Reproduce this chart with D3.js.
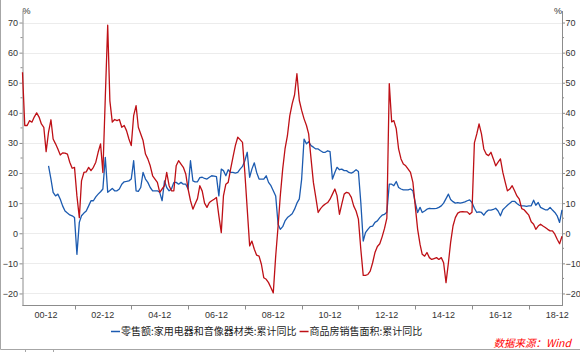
<!DOCTYPE html>
<html>
<head>
<meta charset="utf-8">
<script src="https://cdn.jsdelivr.net/npm/d3@7"></script>
<style>
  html, body { margin: 0; padding: 0; background: #fff; }
  svg { display: block; }
  .num { font-family: "Liberation Sans", Arial, sans-serif; font-size: 9px; fill: #333; }
  .cjk { font-family: "Noto Sans CJK SC", sans-serif; }
</style>
</head>
<body>
<div id="container"></div>
<script>
// monthly, 2000-02 .. 2019-02 (cumulative YoY, %)
const firstMonth = new Date(2000, 1, 1);
const lastMonth = new Date(2019, 1, 1);

// 商品房销售面积:累计同比 (red)
const housingYoY = [
  53.5, 35.8, 35.8, 37.4, 36.9, 38.6, 40.0, 38.6, 36.3, 35.2, 27.1, 33.6,
  37.7, 31.3, 29.7, 28.0, 26.0, 26.7, 26.6, 26.3, 23.6, 21.6, 21.9, 12.4,
  5.2, 17.4, 20.2, 20.4, 21.9, 20.8, 21.9, 23.6, 26.9, 29.7, 20.2, 45.0,
  69.1, 44.0, 36.9, 37.8, 37.4, 37.8, 35.2, 35.8, 34.1, 31.3, 29.1, 39.1,
  42.4, 35.2, 33.0, 30.8, 26.3, 24.7, 22.4, 19.1, 18.0, 16.9, 13.6, 14.7,
  15.8, 20.2, 15.8, 14.1, 14.1, 22.4, 24.1, 23.0, 21.9, 19.7, 14.7, 10.8,
  8.0, 9.7, 11.5, 15.8, 14.0, 10.0, 8.6, 10.2, 10.8, 11.3, 11.9, 5.8,
  0.2, 12.4, 16.3, 16.9, 21.3, 25.2, 29.1, 31.9, 31.1, 30.2, 20.2, 8.0,
  -4.2, -2.6, -5.3, -7.3, -7.6, -10.3, -14.8, -15.3, -16.4, -18.1, -19.8, -7.6,
  2.4, 12.4, 21.3, 28.0, 32.4, 39.0, 43.0, 46.0, 53.0, 44.1, 40.8, 38.0,
  35.8, 33.0, 24.7, 16.9, 11.9, 6.9, 8.2, 9.1, 9.7, 10.2, 11.3, 13.0,
  14.7, 12.5, 6.3, 9.7, 13.0, 13.6, 13.3, 11.9, 9.1, 7.4, 4.7, -5.3,
  -14.0, -14.0, -13.7, -12.6, -9.8, -6.4, -4.4, -3.5, -1.2, 1.6, 5.0, 49.7,
  37.0, 37.4, 34.7, 28.0, 24.7, 23.0, 22.4, 21.3, 20.2, 16.9, 9.1, 1.3,
  -3.7, -7.0, -7.6, -6.4, -8.1, -8.7, -8.4, -8.1, -8.7, -8.1, -9.8, -16.4,
  -9.8, -3.1, 2.4, 5.2, 6.7, 7.1, 7.2, 7.1, 7.1, 6.3, 7.0, 30.0,
  33.0, 36.3, 33.0, 28.0, 26.3, 25.8, 26.9, 24.7, 22.4, 23.6, 24.7, 20.2,
  16.9, 14.1, 14.7, 15.8, 14.1, 12.4, 11.3, 8.2, 7.8, 6.9, 6.0, 3.8,
  3.0, 1.3, 2.4, 3.0, 2.4, 1.9, 1.3, 0.8, 0.8, -0.3, -2.0, -3.5, -1.0,
];

// 零售额:家用电器和音像器材类:累计同比 (blue)
const applianceYoY = [
  null, null, null, null, null, null, null, null, null, null, null, 22.4,
  18.0, 13.6, 12.4, 13.0, 11.3, 9.1, 7.4, 6.7, 6.1, 5.8, 5.2, -7.0,
  3.6, 5.8, 6.7, 7.4, 9.1, 10.8, 10.8, 12.1, 13.0, 13.8, 14.7, 25.2,
  13.6, 14.2, 14.9, 14.1, 14.1, 14.7, 16.3, 17.1, 17.2, 17.4, 18.0, 24.1,
  14.1, 13.9, 15.2, 20.2, 18.0, 16.9, 15.2, 14.1, 14.1, 14.1, 13.6, 10.8,
  17.4, 15.2, 14.1, 14.7, 16.9, 16.9, 16.3, 16.9, 16.3, 16.3, 14.7, 24.1,
  17.4, 17.1, 17.1, 18.5, 18.6, 18.2, 18.0, 18.6, 19.1, 19.0, 18.8, 12.4,
  21.3, 20.8, 19.1, 21.1, 20.2, 20.2, 20.0, 20.2, 21.3, 22.2, 24.1, 26.9,
  18.6, 21.3, 23.4, 20.2, 18.0, 18.0, 18.0, 19.1, 16.9, 15.8, 14.1, 12.4,
  3.0, 1.3, 2.2, 4.1, 5.2, 5.8, 6.5, 8.0, 10.0, 11.4, 18.0, 31.3,
  29.7, 30.4, 29.1, 28.6, 28.0, 28.0, 27.4, 26.9, 26.9, 27.4, 27.1, 18.0,
  20.2, 21.9, 21.1, 21.3, 20.8, 20.8, 20.2, 20.0, 20.4, 21.1, 20.5, 10.2,
  -2.6, 0.2, 1.3, 2.2, 2.4, 3.6, 4.1, 5.2, 6.0, 6.3, 7.0, 16.3,
  16.3, 15.8, 17.2, 15.2, 14.7, 14.4, 14.4, 14.4, 14.7, 14.1, 10.2, 6.9,
  8.6, 6.9, 7.4, 8.0, 8.3, 8.2, 8.2, 8.3, 8.6, 9.1, 10.0, 11.5,
  13.0, 11.2, 10.5, 10.0, 10.2, 10.0, 10.2, 10.4, 10.8, 11.1, 10.2, 8.3,
  6.9, 7.1, 6.9, 6.0, 7.1, 7.7, 7.7, 7.9, 8.3, 7.4, 5.8, 7.8,
  8.6, 9.3, 10.0, 10.6, 10.6, 9.9, 9.3, 9.1, 9.1, 8.9, 9.1, 9.1,
  11.0, 9.3, 10.2, 8.6, 8.2, 7.8, 7.8, 8.6, 7.7, 6.9, 5.8, 3.6, 7.8,
];

const yTicks = [-20, -10, 0, 10, 20, 30, 40, 50, 60, 70];
const xLabelYears = [2000, 2002, 2004, 2006, 2008, 2010, 2012, 2014, 2016, 2018];
const xTickYears = [2001, 2003, 2005, 2007, 2009, 2011, 2013, 2015, 2017];

const seriesNames = ["零售额:家用电器和音像器材类:累计同比", "商品房销售面积:累计同比"];
const seriesColors = ["#1c5bb0", "#be1016"];
const sourceText = "数据来源：Wind";

const months = d3.timeMonth.range(firstMonth, d3.timeMonth.offset(lastMonth, 1));

const width = 580;
const height = 352;
const plotL = 22.5, plotR = 562, plotT = 10.5, plotB = 305.5;

const svg = d3.create("svg")
  .attr("width", width)
  .attr("height", height)
  .attr("viewBox", [0, 0, width, height]);

// attach first so text can be measured
container.append(svg.node());

const x = d3.scaleTime()
  .domain([firstMonth, lastMonth])
  .range([plotL, plotR]);

const y = d3.scaleLinear()
  .domain([-24, 74])
  .range([plotB, plotT]);

// frame
svg.append("path")
  .attr("fill", "none")
  .attr("stroke", "#a6a6a6")
  .attr("d", "M0.5,0V349.5H580M25.5,349.5V352M53.5,349.5V352");

// grid
svg.append("g")
  .attr("stroke", "#ececec")
  .selectAll("line")
  .data(yTicks)
  .join("line")
  .attr("x1", plotL)
  .attr("x2", plotR)
  .attr("y1", (d) => Math.round(y(d)) + 0.5)
  .attr("y2", (d) => Math.round(y(d)) + 0.5);

// y axes
const minor = d3.range(-20, 71, 5).filter((d) => d % 10 !== 0);

const leftAxis = svg.append("g")
  .attr("transform", `translate(${plotL},0)`)
  .call(d3.axisLeft(y).tickValues(yTicks).tickSize(3).tickPadding(1.5).tickSizeOuter(0));
const rightAxis = svg.append("g")
  .attr("transform", `translate(${plotR},0)`)
  .call(d3.axisRight(y).tickValues(yTicks).tickSize(3).tickPadding(0.5).tickSizeOuter(0));

[leftAxis, rightAxis].forEach((g, i) => {
  g.attr("font-size", null).attr("font-family", null);
  g.select(".domain").attr("stroke", "#8c8c8c");
  g.selectAll(".tick line").attr("stroke", "#8c8c8c");
  g.selectAll(".tick text").attr("class", "num");
  g.selectAll(".minor")
    .data(minor)
    .join("line")
    .attr("class", "minor")
    .attr("stroke", "#8c8c8c")
    .attr("x1", 0)
    .attr("x2", i === 0 ? -2 : 2)
    .attr("y1", (d) => y(d))
    .attr("y2", (d) => y(d));
});

svg.append("text").attr("class", "num").attr("x", plotL).attr("y", 14).text("%");
svg.append("text").attr("class", "num").attr("x", plotR).attr("y", 14).attr("text-anchor", "end").text("%");

// x axis
const xAxis = svg.append("g");
xAxis.append("line")
  .attr("stroke", "#8c8c8c")
  .attr("x1", plotL)
  .attr("x2", plotR)
  .attr("y1", plotB)
  .attr("y2", plotB);
xAxis.selectAll(".tk")
  .data(xTickYears.map((yr) => new Date(yr, 11, 1)))
  .join("line")
  .attr("class", "tk")
  .attr("stroke", "#8c8c8c")
  .attr("x1", (d) => Math.round(x(d)) + 0.5)
  .attr("x2", (d) => Math.round(x(d)) + 0.5)
  .attr("y1", plotB)
  .attr("y2", plotB + 4);
xAxis.selectAll(".lb")
  .data(xLabelYears.map((yr) => new Date(yr, 11, 1)))
  .join("text")
  .attr("class", "num lb")
  .attr("x", (d) => x(d))
  .attr("y", 317.5)
  .attr("text-anchor", "middle")
  .text(d3.timeFormat("%y-%m"));

// lines
const series = [applianceYoY, housingYoY];
const line = d3.line()
  .defined((d) => d.v != null)
  .x((d) => x(d.date))
  .y((d) => y(d.v));

svg.append("g")
  .attr("fill", "none")
  .attr("stroke-width", 1.3)
  .attr("stroke-linejoin", "round")
  .selectAll("path")
  .data(series.map((vals) => months.map((date, i) => ({ date, v: vals[i] }))))
  .join("path")
  .attr("stroke", (d, i) => seriesColors[i])
  .attr("d", line);

// legend
const legend = svg.append("g").attr("class", "cjk").attr("font-size", 10).attr("fill", "#222");
let lx = 111;
seriesNames.forEach((name, i) => {
  legend.append("line")
    .attr("stroke", seriesColors[i])
    .attr("stroke-width", 1.5)
    .attr("x1", lx)
    .attr("x2", lx + 9)
    .attr("y1", 331.5)
    .attr("y2", 331.5);
  const t = legend.append("text")
    .attr("x", lx + 10)
    .attr("y", 335)
    .text(name);
  lx += 10 + t.node().getComputedTextLength() + 3;
});

svg.append("text")
  .attr("class", "cjk")
  .attr("x", 571)
  .attr("y", 347)
  .attr("text-anchor", "end")
  .attr("font-size", 10.5)
  .attr("font-style", "italic")
  .attr("fill", "#ff0000")
  .text(sourceText);
</script>
</body>
</html>
